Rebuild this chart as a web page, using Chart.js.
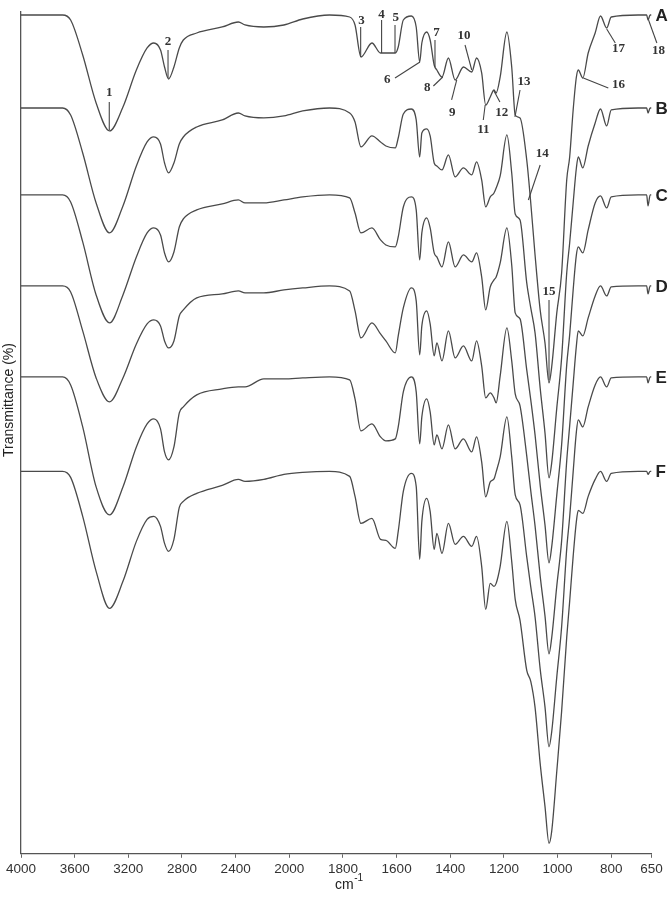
<!DOCTYPE html>
<html>
<head>
<meta charset="utf-8">
<script src="https://cdn.jsdelivr.net/npm/chart.js@4.4.1/dist/chart.umd.min.js"></script>
<style>
  body { margin: 0; background: #fff; }
  #wrap { width: 671px; height: 900px; }
</style>
</head>
<body>
<div id="wrap"><canvas id="ftir" width="671" height="900"></canvas></div>
<script>
// wavenumbers (cm-1), shared by all six spectra
const wavenumbers = [4000, 3780, 3690, 3630, 3540, 3440, 3340, 3240, 3140, 3060, 3010, 2960, 2930, 2900, 2860, 2820, 2790, 2690, 2500, 2380, 2330, 2190, 2040, 1950, 1850,
  1775, 1755, 1733, 1692, 1660, 1640, 1605, 1594, 1575, 1545, 1527, 1514, 1506, 1488, 1475, 1460, 1450, 1431, 1407, 1382, 1351, 1320, 1302, 1283, 1268, 1251, 1237, 1229, 1214,
  1189, 1171, 1158, 1140, 1115, 1100, 1084, 1065, 1047, 1032, 1022, 1003, 985, 966, 955, 942, 930, 923, 906, 886, 860, 840, 817, 800, 700, 668, 663, 655, 650];

// transmittance drop below each spectrum's own baseline (arbitrary units)
const dropA = [0, 0, 0, 5, 40, 88, 116, 92, 55, 33, 28, 35, 52, 64, 52, 33, 25, 18, 12, 7, 10, 12, 10, 4, 0,
  2, 10, 42, 28, 38, 38, 38, 32, 5, 1, 12, 47, 28, 17, 25, 50, 55, 62, 43, 65, 52, 57, 43, 58, 90, 82, 75, 78, 62,
  17, 52, 100, 103, 145, 188, 240, 295, 328, 368, 352, 298, 258, 165, 142, 95, 62, 55, 63, 38, 18, 1, 13, 2, 0, 0, 5, 0, 0];
const dropB = [0, 0, 0, 7, 45, 95, 125, 98, 58, 34, 29, 36, 55, 65, 55, 36, 29, 19, 12, 5, 8, 10, 8, 3, 0,
  5, 14, 39, 28, 34, 38, 40, 30, 6, 1, 12, 49, 25, 21, 28, 55, 58, 62, 47, 69, 60, 67, 54, 72, 99, 89, 85, 80, 68,
  27, 65, 106, 112, 175, 200, 225, 280, 325, 370, 355, 300, 250, 165, 135, 95, 60, 49, 60, 38, 15, 1, 18, 2, 0, 0, 5, 0, 0];
const dropC = [0, 0, 0, 7, 47, 100, 128, 100, 62, 38, 33, 40, 58, 67, 57, 32, 24, 15, 9, 5, 8, 8, 5, 2, 0,
  3, 18, 38, 33, 45, 50, 52, 42, 12, 2, 15, 65, 38, 23, 33, 58, 62, 72, 47, 72, 60, 67, 58, 82, 115, 92, 85, 82, 68,
  33, 70, 118, 124, 175, 205, 240, 290, 330, 368, 352, 300, 250, 170, 140, 95, 60, 52, 58, 35, 8, 1, 13, 2, 0, 0, 11, 0, 0];
const dropD = [0, 0, 0, 6, 45, 92, 116, 92, 58, 38, 34, 40, 55, 62, 55, 30, 24, 12, 8, 5, 7, 7, 4, 2, 0,
  5, 25, 52, 37, 48, 55, 67, 50, 22, 2, 15, 69, 40, 25, 38, 70, 57, 75, 45, 72, 60, 75, 55, 80, 112, 107, 112, 117, 90,
  42, 75, 108, 120, 170, 205, 240, 290, 330, 368, 352, 300, 255, 175, 140, 98, 60, 45, 50, 32, 10, 0, 10, 1, 0, 0, 8, 0, 0];
const dropE = [0, 0, 0, 8, 50, 110, 138, 110, 70, 47, 42, 52, 75, 83, 70, 36, 30, 18, 12, 10, 10, 2, 2, 1, 0,
  3, 22, 54, 47, 60, 64, 62, 50, 15, 0, 15, 67, 40, 22, 35, 68, 58, 72, 48, 72, 62, 75, 60, 85, 120, 105, 102, 95, 80,
  40, 80, 118, 128, 180, 210, 240, 292, 330, 370, 355, 300, 250, 172, 140, 95, 55, 43, 50, 30, 8, 0, 10, 1, 0, 0, 6, 0, 0];
const dropF = [0, 0, 0, 6, 45, 100, 137, 110, 70, 48, 45, 55, 72, 80, 68, 36, 30, 22, 14, 8, 10, 8, 3, 1, 0,
  5, 25, 52, 47, 68, 69, 77, 60, 20, 2, 15, 88, 50, 27, 40, 78, 62, 82, 52, 73, 65, 75, 65, 95, 138, 112, 115, 112, 95,
  50, 90, 128, 149, 199, 210, 236, 292, 335, 372, 360, 300, 240, 166, 130, 85, 50, 39, 42, 25, 8, 0, 10, 2, 0, 0, 3, 0, 0];

const sampleNames = ['A', 'B', 'C', 'D', 'E', 'F'];
const tickWavenumbers = [4000, 3600, 3200, 2800, 2400, 2000, 1800, 1600, 1400, 1200, 1000, 800, 650];

// vertical stacking offsets of the spectra
const offsets = [839, 746, 659, 568, 477, 382.5];

// numbered band marks: label, text position, leader line (wavenumber, value)
const bandMarks = [
  ['1', 3342, 761, 3342, 752, 3342, 724],
  ['2', 2904, 812, 2904, 804, 2904, 776],
  ['3', 1731, 833, 1734, 827, 1734, 797],
  ['4', 1656, 839, 1656, 834, 1656, 801],
  ['5', 1603, 836, 1606, 829, 1606, 801],
  ['6', 1635, 774, 1606, 776, 1513, 792],
  ['7', 1451, 821, 1457, 814, 1457, 787],
  ['8', 1486, 766, 1463, 768, 1428, 777],
  ['9', 1393, 741, 1395, 754, 1376, 774],
  ['10', 1349, 818, 1345, 809, 1320, 784],
  ['11', 1277, 724, 1277, 734, 1270, 749],
  ['12', 1208, 741, 1215, 752, 1237, 763],
  ['13', 1125, 772, 1140, 764, 1159, 737],
  ['14', 1057, 700, 1065, 689, 1109, 654],
  ['15', 1032, 562, 1032, 554, 1032, 474],
  ['16', 773, 769, 811, 766, 904, 776],
  ['17', 773, 805, 785, 811, 817, 825],
  ['18', 624, 803, 630, 811, 661, 834]
];

// broken wavenumber axis: 2000-650 is drawn at twice the scale of 4000-2000
function toPos(w) { return w >= 2000 ? (4000 - w) / 2 : 1000 + (2000 - w); }

const drops = [dropA, dropB, dropC, dropD, dropE, dropF];
const lineColor = '#4a4a4a';

const datasets = drops.map((d, k) => ({
  label: sampleNames[k],
  data: wavenumbers.map((w, i) => ({ x: toPos(w), y: offsets[k] - d[i] })),
  borderColor: lineColor,
  borderWidth: 1.3,
  pointRadius: 0,
  cubicInterpolationMode: 'monotone',
  fill: false
}));

const overlay = {
  id: 'overlay',
  afterDatasetsDraw(chart) {
    const ctx = chart.ctx, xs = chart.scales.x, ys = chart.scales.y;
    const px = w => xs.getPixelForValue(toPos(w));
    const py = v => ys.getPixelForValue(v);
    ctx.save();
    // sample letters at the right end of each trace
    ctx.fillStyle = '#222';
    ctx.font = 'bold 17px "Liberation Sans", Arial, sans-serif';
    ctx.textAlign = 'left';
    ctx.textBaseline = 'middle';
    sampleNames.forEach((n, k) => ctx.fillText(n, xs.right + 4, py(offsets[k]) + 1));
    // band numbers and leader lines
    ctx.strokeStyle = '#444';
    ctx.lineWidth = 1.1;
    ctx.fillStyle = '#333';
    ctx.font = 'bold 13px "Liberation Serif", "Times New Roman", serif';
    ctx.textAlign = 'center';
    bandMarks.forEach(m => {
      ctx.beginPath();
      ctx.moveTo(px(m[3]), py(m[4]));
      ctx.lineTo(px(m[5]), py(m[6]));
      ctx.stroke();
      ctx.fillText(m[0], px(m[1]), py(m[2]));
    });
    // axis titles
    ctx.fillStyle = '#222';
    ctx.font = '14px "Liberation Sans", Arial, sans-serif';
    ctx.textAlign = 'left';
    ctx.textBaseline = 'alphabetic';
    const cx = 335;
    ctx.fillText('cm', cx, 889);
    const cw = ctx.measureText('cm').width;
    ctx.font = '10px "Liberation Sans", Arial, sans-serif';
    ctx.fillText('-1', cx + cw + 0.5, 881);
    ctx.translate(13, 400);
    ctx.rotate(-Math.PI / 2);
    ctx.font = '14px "Liberation Sans", Arial, sans-serif';
    ctx.textAlign = 'center';
    ctx.fillText('Transmittance (%)', 0, 0);
    ctx.restore();
  }
};

new Chart(document.getElementById('ftir').getContext('2d'), {
  type: 'line',
  data: { datasets: datasets },
  options: {
    responsive: false,
    animation: false,
    layout: { padding: { left: 21, right: 19.5, top: 12, bottom: 20 } },
    plugins: { legend: { display: false }, tooltip: { enabled: false } },
    scales: {
      x: {
        type: 'linear',
        min: toPos(4000),
        max: toPos(650),
        afterBuildTicks: axis => { axis.ticks = tickWavenumbers.map(w => ({ value: toPos(w) })); },
        ticks: {
          autoSkip: false,
          maxRotation: 0,
          padding: 3,
          color: '#333',
          font: { family: '"Liberation Sans", Arial, sans-serif', size: 13.5 },
          callback: (v, i) => String(tickWavenumbers[i])
        },
        grid: { display: true, drawOnChartArea: false, tickLength: 4, color: '#666' },
        border: { display: true, color: '#555', width: 1.3 }
      },
      y: {
        min: 0,
        max: 842,
        ticks: { display: false },
        grid: { display: false, drawTicks: false },
        border: { display: true, color: '#555', width: 1.3 }
      }
    }
  },
  plugins: [overlay]
});
</script>
</body>
</html>
